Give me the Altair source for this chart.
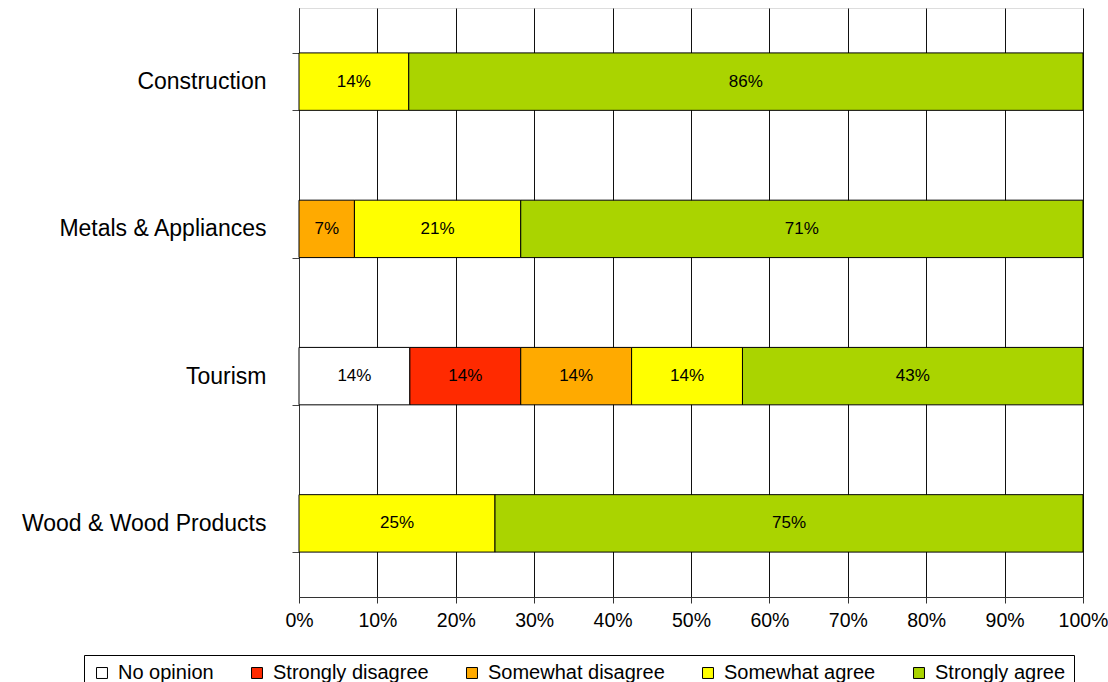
import altair as alt
import pandas as pd

# Survey responses by sector (percent of respondents)
categories = ["Construction", "Metals & Appliances", "Tourism", "Wood & Wood Products"]
responses = ["No opinion", "Strongly disagree", "Somewhat disagree", "Somewhat agree", "Strongly agree"]
colors = ["#FFFFFF", "#FF2A00", "#FFAA00", "#FFFF00", "#AAD400"]

no_opinion = [0, 0, 14, 0]
strongly_disagree = [0, 0, 14, 0]
somewhat_disagree = [0, 7, 14, 0]
somewhat_agree = [14, 21, 14, 25]
strongly_agree = [86, 71, 43, 75]

x_ticks = [0, 0.1, 0.2, 0.3, 0.4, 0.5, 0.6, 0.7, 0.8, 0.9, 1.0]

series = [no_opinion, strongly_disagree, somewhat_disagree, somewhat_agree, strongly_agree]
rows = []
for i, cat in enumerate(categories):
    for j, (resp, vals) in enumerate(zip(responses, series)):
        if vals[i] > 0:
            rows.append({"category": cat, "response": resp, "order": j, "value": vals[i]})
df = pd.DataFrame(rows)

FONT = "Liberation Sans"

base = alt.Chart(df).transform_stack(
    stack="value",
    groupby=["category"],
    sort=[alt.SortField("order")],
    offset="normalize",
    as_=["x0", "x1"],
).transform_calculate(
    mid="(datum.x0 + datum.x1) / 2",
    label="datum.value + '%'",
)

y_enc = alt.Y(
    "category:N",
    sort=categories,
    scale=alt.Scale(paddingInner=0.61, paddingOuter=0.305),
    axis=alt.Axis(
        title=None,
        labelFont=FONT,
        labelFontSize=23,
        labelColor="black",
        labelAlign="right",
        labelPadding=26,
        labelLimit=0,
        tickBand="extent",
        tickSize=7,
        tickColor="#444",
        domainColor="#333",
        grid=False,
    ),
)

bars = base.mark_bar(stroke="black", strokeWidth=1, opacity=1).encode(
    y=y_enc,
    x=alt.X(
        "x0:Q",
        scale=alt.Scale(domain=[0, 1], nice=False),
        axis=alt.Axis(
            title=None,
            values=x_ticks,
            format=".0%",
            labelFont=FONT,
            labelFontSize=19.5,
            labelColor="black",
            labelPadding=8,
            labelFlush=False,
            labelOverlap=False,
            tickSize=6,
            tickColor="#333",
            domainColor="#333",
            grid=True,
            gridColor="#111",
            gridOpacity=1,
            gridWidth=1,
        ),
    ),
    x2="x1:Q",
    color=alt.Color(
        "response:N",
        sort=responses,
        scale=alt.Scale(domain=responses, range=colors),
        legend=alt.Legend(
            title=None,
            orient="none",
            legendX=-215,
            legendY=647,
            direction="horizontal",
            columns=5,
            symbolType="square",
            symbolSize=120,
            symbolStrokeColor="black",
            symbolStrokeWidth=1,
            labelFont=FONT,
            labelFontSize=20,
            labelColor="black",
            labelOffset=6,
            labelLimit=0,
            columnPadding=33,
            strokeColor="black",
            fillColor="white",
            padding=8,
        ),
    ),
)

text = base.mark_text(font=FONT, fontSize=17, color="black").encode(
    y=alt.Y("category:N", sort=categories),
    x=alt.X("mid:Q"),
    text="label:N",
)

chart = (
    alt.layer(bars, text)
    .properties(
        width=784,
        height=589,
        autosize="none",
        padding={"left": 299, "top": 8, "right": 25, "bottom": 85},
    )
    .configure_view(stroke="#9a9a9a", strokeWidth=1)
    .configure(background="white")
)

chart.save("out.html", embed_options={"renderer": "svg", "actions": False})
